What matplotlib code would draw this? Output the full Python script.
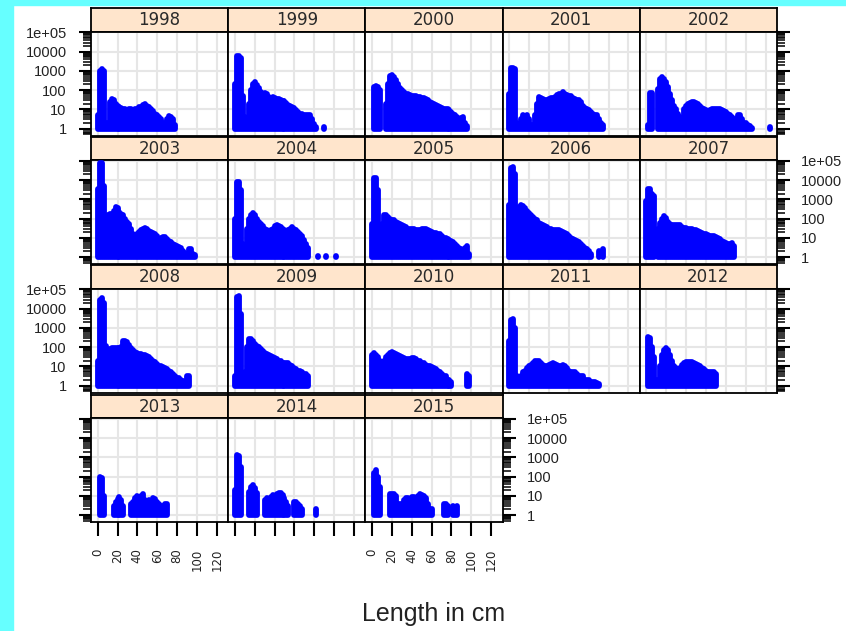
import matplotlib
matplotlib.use("Agg")
import matplotlib.pyplot as plt
from matplotlib.patches import Rectangle
from matplotlib.ticker import FixedLocator, FixedFormatter, LogLocator, NullFormatter

W, H = 846, 631
CYAN = "#66ffff"
BLUE = "#0000ff"
STRIP = "#ffe5cc"
GRID = "#e6e6e6"
TICK_FONT = ["DejaVu Sans"]
LABEL_FONT = ["Liberation Sans", "DejaVu Sans"]

# length classes (cm), one bar every 2 cm
LENGTHS = [0, 2, 4, 6, 8, 10, 12, 14, 16, 18,
           20, 22, 24, 26, 28, 30, 32, 34, 36, 38,
           40, 42, 44, 46, 48, 50, 52, 54, 56, 58,
           60, 62, 64, 66, 68, 70, 72, 74, 76, 78,
           80, 82, 84, 86, 88, 90, 92, 94, 96, 98,
           100, 102, 104, 106, 108, 110, 112, 114, 116, 118,
           120, 122, 124]

YEARS = [1998, 1999, 2000, 2001, 2002, 2003, 2004, 2005, 2006,
         2007, 2008, 2009, 2010, 2011, 2012, 2013, 2014, 2015]

# numbers at length (0 = no bar)
N_1998 = [5, 1000, 1200, 1000, 2, 2, 25, 35, 30, 20,
          15, 14, 12, 10, 11, 9, 10, 10, 9, 11,
          10, 13, 14, 17, 18, 15, 13, 10, 8, 6,
          5, 4, 3, 2, 2, 3, 4.5, 4, 3, 1.5,
          0, 0, 0, 0, 0, 0, 0, 0, 0, 0,
          0, 0, 0, 0, 0, 0, 0, 0, 0, 0,
          0, 0, 0]
N_1999 = [200, 6000, 6000, 4500, 50, 4, 3, 20, 100, 200,
          250, 180, 130, 80, 60, 70, 65, 45, 40, 45,
          38, 35, 33, 32, 28, 27, 22, 17, 15, 13,
          12, 9, 7, 6, 6, 5, 5, 5, 5, 3,
          1.7, 1.2, 0, 0, 0, 1.2, 0, 0, 0, 0,
          0, 0, 0, 0, 0, 0, 0, 0, 0, 0,
          0, 0, 0]
N_2000 = [0, 150, 160, 150, 100, 0, 0, 20, 200, 550,
          600, 500, 350, 200, 130, 100, 80, 65, 60, 55,
          50, 50, 50, 45, 42, 40, 40, 35, 30, 25,
          22, 20, 17, 15, 14, 12, 11, 10, 10, 9,
          7, 6, 5, 4, 3, 3.5, 4, 2, 1.3, 0,
          0, 0, 0, 0, 0, 0, 0, 0, 0, 0,
          0, 0, 0]
N_2001 = [60, 1400, 1400, 1200, 2, 1.5, 3, 5, 4, 5,
          3, 1.5, 1.5, 5, 20, 45, 40, 35, 30, 32,
          35, 38, 40, 45, 55, 60, 65, 80, 60, 55,
          50, 48, 40, 35, 32, 30, 25, 15, 12, 10,
          9, 7, 6, 5, 5, 3, 2, 1.5, 0, 0,
          0, 0, 0, 0, 0, 0, 0, 0, 0, 0,
          0, 0, 0]
N_2002 = [0, 1.5, 70, 70, 0, 0, 120, 400, 500, 400,
          250, 150, 60, 30, 15, 10, 6, 4, 2.5, 10,
          15, 20, 22, 25, 25, 22, 20, 15, 12, 10,
          9, 8, 9, 10, 10, 10, 10, 10, 9, 8,
          7, 6, 5, 4, 3, 3, 5, 5, 3, 2,
          2, 1.5, 1.3, 1.1, 0, 0, 0, 0, 0, 0,
          0, 0, 1.2]
N_2003 = [3500, 80000, 80000, 5000, 20, 150, 170, 170, 250, 400,
          350, 220, 180, 150, 100, 65, 50, 30, 15, 12,
          15, 20, 25, 30, 32, 28, 22, 20, 18, 15,
          12, 9, 10, 11, 11, 9, 7, 6, 5, 4.5,
          4, 3.5, 3, 2, 1.7, 1.5, 2.5, 2.6, 1.5, 1.3,
          0, 0, 0, 0, 0, 0, 0, 0, 0, 0,
          0, 0, 0]
N_2004 = [100, 8000, 8500, 3000, 5, 3, 30, 100, 150, 200,
          150, 100, 70, 50, 40, 30, 25, 20, 25, 30,
          40, 45, 40, 35, 30, 25, 22, 25, 30, 35,
          30, 25, 20, 15, 12, 8, 5, 3, 0, 0,
          0, 0, 1.2, 0, 0, 0, 1.2, 0, 0, 0,
          0, 1.2, 0, 0, 0, 0, 0, 0, 0, 0,
          0, 0, 0]
N_2005 = [50, 13000, 13000, 3000, 5, 50, 150, 150, 120, 100,
          90, 80, 70, 60, 50, 45, 40, 35, 30, 30,
          30, 28, 25, 25, 25, 28, 30, 28, 25, 22,
          20, 18, 18, 16, 15, 12, 10, 10, 9, 8,
          7, 6, 5, 4, 3, 2.5, 2, 3, 4, 1.5,
          0, 0, 0, 0, 0, 0, 0, 0, 0, 0,
          0, 0, 0]
N_2006 = [500, 45000, 50000, 20000, 100, 400, 500, 450, 350, 250,
          200, 150, 120, 100, 80, 60, 50, 45, 40, 35,
          30, 28, 25, 25, 25, 25, 22, 20, 18, 15,
          12, 10, 9, 8, 7, 6, 5, 4, 3, 2.5,
          2, 1.5, 0, 0, 0, 2, 0, 2.5, 0, 0,
          0, 0, 0, 0, 0, 0, 0, 0, 0, 0,
          0, 0, 0]
N_2007 = [800, 3500, 3500, 2000, 1500, 0, 30, 60, 95, 130,
          110, 70, 55, 45, 45, 45, 47, 45, 38, 32,
          32, 30, 30, 28, 27, 25, 23, 20, 18, 16,
          15, 14, 13, 12, 12, 11, 10, 9, 7, 6,
          5.5, 5, 5, 5.5, 4, 0, 0, 0, 0, 0,
          0, 0, 0, 0, 0, 0, 0, 0, 0, 0,
          0, 0, 0]
N_2008 = [20, 30000, 34000, 20000, 120, 10, 80, 85, 85, 85,
          85, 90, 100, 200, 220, 180, 130, 90, 70, 55,
          50, 45, 45, 40, 38, 35, 30, 25, 20, 16,
          13, 11, 10, 9, 8, 7, 6, 5, 4, 3,
          2.5, 2.5, 2, 1.7, 1.5, 3, 3, 0, 0, 0,
          0, 0, 0, 0, 0, 0, 0, 0, 0, 0,
          0, 0, 0]
N_2009 = [3, 40000, 45000, 5000, 2, 5, 100, 250, 280, 200,
          150, 120, 100, 80, 60, 50, 45, 40, 35, 30,
          28, 25, 20, 18, 15, 15, 15, 15, 12, 10,
          8, 7, 6, 6, 5, 4, 4, 3, 0, 0,
          0, 0, 0, 0, 0, 0, 0, 0, 0, 0,
          0, 0, 0, 0, 0, 0, 0, 0, 0, 0,
          0, 0, 0]
N_2010 = [40, 50, 40, 30, 20, 10, 20, 30, 40, 50,
          55, 50, 45, 40, 35, 30, 28, 25, 25, 25,
          28, 26, 24, 20, 18, 15, 15, 12, 10, 10,
          9, 8, 7, 6, 5, 4, 3, 3, 2, 2,
          1.5, 0, 0, 0, 0, 0, 0, 0, 4, 3,
          0, 0, 0, 0, 0, 0, 0, 0, 0, 0,
          0, 0, 0]
N_2011 = [200, 2500, 3000, 1000, 3, 2, 3, 5, 6, 8,
          10, 12, 15, 18, 20, 18, 15, 12, 10, 10,
          12, 14, 15, 14, 12, 10, 10, 12, 10, 8,
          6, 5, 5, 5, 4, 3, 3, 3, 2, 2,
          2, 1.5, 1.5, 1.5, 1.3, 1.2, 0, 0, 0, 0,
          0, 0, 0, 0, 0, 0, 0, 0, 0, 0,
          0, 0, 0]
N_2012 = [0, 340, 300, 100, 30, 2, 2, 10, 40, 70,
          85, 70, 40, 20, 11, 8, 6, 8, 12, 15,
          17, 17, 16, 17, 15, 14, 12, 10, 8, 7,
          6, 5, 5, 5, 5, 4, 0, 0, 0, 0,
          0, 0, 0, 0, 0, 0, 0, 0, 0, 0,
          0, 0, 0, 0, 0, 0, 0, 0, 0, 0,
          0, 0, 0]
N_2013 = [0, 100, 90, 10, 0, 0, 0, 0, 3, 5,
          7, 9, 6, 3, 0, 0, 0, 4, 5, 8,
          10, 3, 10, 12, 6, 5, 6, 5, 8, 7,
          5, 4, 3, 3, 4, 4, 0, 0, 0, 0,
          0, 0, 0, 0, 0, 0, 0, 0, 0, 0,
          0, 0, 0, 0, 0, 0, 0, 0, 0, 0,
          0, 0, 0]
N_2014 = [20, 1400, 1200, 300, 0, 0, 0, 15, 30, 38,
          25, 14, 0, 0, 0, 6, 8, 7, 9, 11,
          10, 12, 14, 14, 11, 8, 5, 3, 0, 0,
          5, 5, 4, 3, 2, 0, 0, 0, 0, 0,
          0, 2, 0, 0, 0, 0, 0, 0, 0, 0,
          0, 0, 0, 0, 0, 0, 0, 0, 0, 0,
          0, 0, 0]
N_2015 = [0, 150, 230, 100, 30, 0, 0, 0, 0, 12,
          12, 12, 10, 4, 4, 4, 6, 8, 8, 7,
          9, 9, 8, 10, 12, 11, 10, 8, 4, 2,
          2, 0, 0, 0, 0, 0, 4, 4, 3, 0,
          0, 3, 2.5, 3, 0, 0, 0, 0, 0, 0,
          0, 0, 0, 0, 0, 0, 0, 0, 0, 0,
          0, 0, 0]

COUNTS = [N_1998, N_1999, N_2000, N_2001, N_2002, N_2003, N_2004, N_2005, N_2006,
          N_2007, N_2008, N_2009, N_2010, N_2011, N_2012, N_2013, N_2014, N_2015]

Y_TICKS = [1, 10, 100, 1000, 10000, 100000]
Y_LABELS = ["1", "10", "100", "1000", "10000", "1e+05"]
X_TICKS = [0, 20, 40, 60, 80, 100, 120]

# layout in pixels
COL_X0, COL_W = 91, 137.2
ROW_TOPS = [8, 136.5, 265, 394.5]
STRIP_H, PANEL_H = 23.5, 104
NCOL = 5


def box(x0, y0, w, h):
    return [x0 / W, 1 - (y0 + h) / H, w / W, h / H]


fig = plt.figure(figsize=(W / 100, H / 100), dpi=100)
fig.patches.append(Rectangle((0, 0), 13 / W, 1, transform=fig.transFigure,
                             color=CYAN, zorder=0))
fig.patches.append(Rectangle((0, 1 - 4.5 / H), 1, 4.5 / H, transform=fig.transFigure,
                             color=CYAN, zorder=0))

nrows = 4
for i, (year, counts) in enumerate(zip(YEARS, COUNTS)):
    r, c = divmod(i, NCOL)
    x0 = COL_X0 + c * COL_W
    top = ROW_TOPS[r]
    last_in_row = (c == NCOL - 1) or (i == len(YEARS) - 1)
    bottom_row = (r == nrows - 1)

    # strip
    sax = fig.add_axes(box(x0, top, COL_W, STRIP_H))
    sax.set_facecolor(STRIP)
    sax.set_xticks([])
    sax.set_yticks([])
    for sp in sax.spines.values():
        sp.set_linewidth(1.3)
    sax.text(0.5, 0.47, str(year), ha="center", va="center", fontsize=12,
             color="#2a2a2a", family=TICK_FONT, transform=sax.transAxes)

    # panel
    ax = fig.add_axes(box(x0, top + STRIP_H, COL_W, PANEL_H))
    ax.set_yscale("log")
    ax.set_xlim(-6.7, 131.5)
    ax.set_ylim(10 ** -0.36, 10 ** 5.05)
    ax.set_axisbelow(True)

    xs = [L for L, n in zip(LENGTHS, counts) if n > 0]
    ys = [n for n in counts if n > 0]
    ax.vlines(xs, 1, ys, colors=BLUE, lw=4.2, capstyle="round", zorder=3)

    ax.yaxis.set_major_locator(FixedLocator(Y_TICKS))
    ax.yaxis.set_major_formatter(FixedFormatter(Y_LABELS))
    ax.yaxis.set_minor_locator(LogLocator(base=10, subs=[2, 3, 4, 5, 6, 7, 8, 9], numticks=20))
    ax.yaxis.set_minor_formatter(NullFormatter())
    ax.xaxis.set_major_locator(FixedLocator(X_TICKS))
    ax.grid(True, which="major", color=GRID, lw=1.5)

    for sp in ax.spines.values():
        sp.set_linewidth(1.3)

    ax.tick_params(axis="y", which="major", direction="out", length=9, width=1.5,
                   pad=8.5, labelsize=10.5, labelcolor="#222222",
                   left=(c == 0), right=last_in_row,
                   labelleft=(c == 0 and r % 2 == 0),
                   labelright=(last_in_row and r % 2 == 1))
    ax.tick_params(axis="y", which="minor", direction="out", length=5.5, width=1.1,
                   left=(c == 0), right=last_in_row)
    ax.tick_params(axis="x", which="both", direction="out", length=10, width=1.5,
                   pad=9, labelsize=8.5, labelcolor="#222222", labelrotation=90,
                   bottom=bottom_row, top=False,
                   labelbottom=(bottom_row and c % 2 == 0))
    for lab in ax.get_xticklabels():
        lab.set_family(TICK_FONT)
    for lab in ax.get_yticklabels():
        lab.set_family(LABEL_FONT)

fig.text(434 / W, 1 - 614 / H, "Length in cm", ha="center", va="center",
         fontsize=18, color="#222222", family=LABEL_FONT)

fig.savefig("out.png", dpi=100)
